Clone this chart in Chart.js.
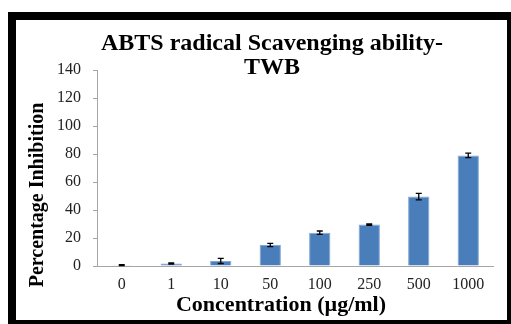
<!DOCTYPE html>
<html><head><meta charset="utf-8">
<script src="https://cdn.jsdelivr.net/npm/chart.js@4"></script>
<style>
html,body{margin:0;padding:0;background:#fff;}
#frame{position:absolute;left:8px;top:12px;border-style:solid;border-color:#000;border-width:8px 4px 4px 8px;width:491px;height:300px;background:#fff;}
canvas{display:block;}
</style></head><body>
<div id="frame"><canvas id="c" width="491" height="300"></canvas></div>
<script>
const categories = ['0','1','10','50','100','250','500','1000'];
const inhibition = [0.6, 1.8, 3.6, 15, 23.8, 29.6, 49.6, 79];
const errors = [0.3, 0.5, 1.8, 1.1, 1.2, 0.5, 2.3, 1.6];
const yTicks = [0, 20, 40, 60, 80, 100, 120, 140];
const titleLines = ['ABTS radical Scavenging ability-', 'TWB'];
const xTitle = 'Concentration (\u00b5g/ml)';
const yTitle = 'Percentage Inhibition';

const SERIF = "'Liberation Serif','Times New Roman',serif";

const errorBars = {
  id: 'errorBars',
  afterDatasetsDraw(chart) {
    const x = chart.scales.x, y = chart.scales.y, ctx = chart.ctx;
    ctx.save();
    ctx.strokeStyle = '#000';
    ctx.lineWidth = 1.3;
    inhibition.forEach((v, i) => {
      const px = x.getPixelForValue(i);
      const t = y.getPixelForValue(v + errors[i]);
      const b = y.getPixelForValue(Math.max(0, v - errors[i]));
      ctx.beginPath();
      ctx.moveTo(px, t); ctx.lineTo(px, b);
      ctx.moveTo(px - 3, t); ctx.lineTo(px + 3, t);
      ctx.moveTo(px - 3, b); ctx.lineTo(px + 3, b);
      ctx.stroke();
    });
    ctx.restore();
  }
};

const axisTitles = {
  id: 'axisTitles',
  afterDraw(chart) {
    const ctx = chart.ctx, a = chart.chartArea;
    ctx.save();
    ctx.fillStyle = '#000';
    ctx.textAlign = 'center';
    ctx.textBaseline = 'middle';
    ctx.font = "bold 22px " + SERIF;
    ctx.fillText(xTitle, (a.left + a.right) / 2 - 14, a.bottom + 39);
    ctx.font = "bold 20px " + SERIF;
    ctx.translate(22, (a.top + a.bottom) / 2 + 27);
    ctx.rotate(-Math.PI / 2);
    ctx.fillText(yTitle, 0, 0);
    ctx.restore();
  }
};

new Chart(document.getElementById('c'), {
  type: 'bar',
  data: {
    labels: categories,
    datasets: [{
      data: inhibition,
      backgroundColor: '#4A7EBB',
      borderColor: '#7EA6D6',
      borderWidth: 1,
      categoryPercentage: 0.43,
      barPercentage: 1
    }]
  },
  options: {
    responsive: false,
    animation: false,
    devicePixelRatio: 1,
    layout: { padding: { left: 35, right: 14, top: 0, bottom: 0 } },
    plugins: {
      legend: { display: false },
      tooltip: { enabled: false },
      title: {
        display: true,
        text: titleLines,
        color: '#000',
        font: { family: SERIF, size: 24, weight: 'bold', lineHeight: 1.0 },
        padding: { top: 12, bottom: -10 }
      }
    },
    scales: {
      x: {
        grid: { display: false, drawTicks: false },
        border: { display: true, color: '#A6A6A6', width: 1 },
        ticks: { color: '#222', font: { family: SERIF, size: 16 }, padding: 9, maxRotation: 0 },
        afterFit(s) { s.height = 54; }
      },
      y: {
        min: 0, max: 140,
        afterBuildTicks(s) { s.ticks = yTicks.map(v => ({ value: v })); },
        grid: { display: true, drawOnChartArea: false, drawTicks: true, tickLength: 4, color: '#A6A6A6' },
        border: { display: true, color: '#A6A6A6', width: 1 },
        ticks: { color: '#222', font: { family: SERIF, size: 16 }, padding: 12 },
        afterFit(s) { s.width = 46; }
      }
    }
  },
  plugins: [errorBars, axisTitles]
});
</script>
</body></html>
